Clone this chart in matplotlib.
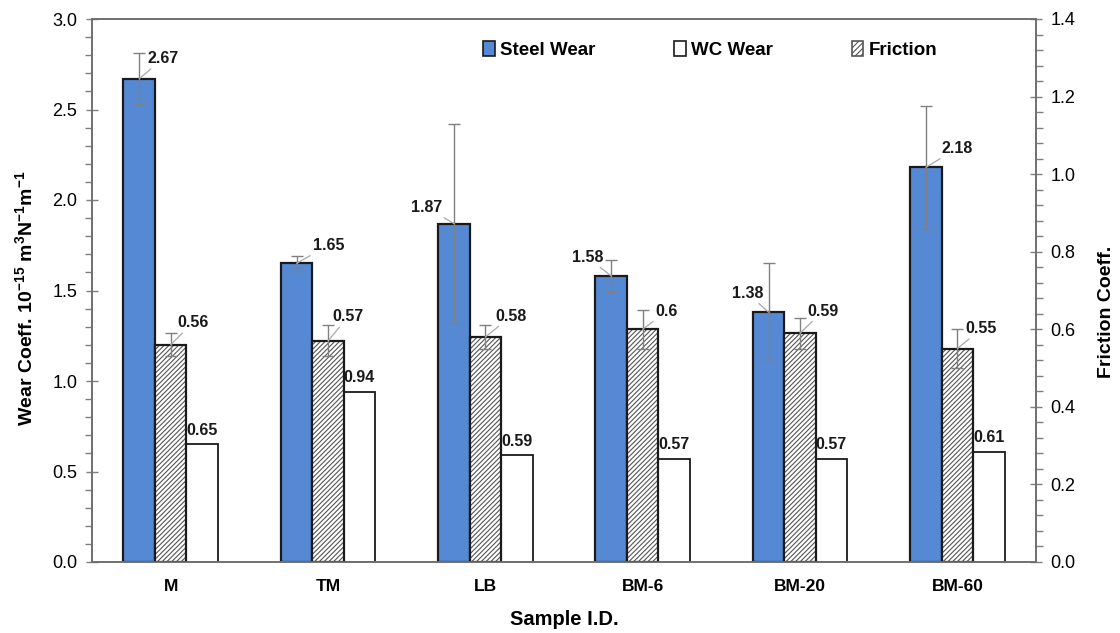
import numpy as np
import matplotlib
matplotlib.use("Agg")
import matplotlib.pyplot as plt
from matplotlib.patches import Patch
from matplotlib.ticker import MultipleLocator

plt.rcParams['font.family'] = ['Liberation Sans', 'DejaVu Sans']
plt.rcParams['mathtext.fontset'] = 'custom'
plt.rcParams['mathtext.rm'] = 'Liberation Sans'
plt.rcParams['mathtext.bf'] = 'Liberation Sans:bold'

# data
samples = ['M', 'TM', 'LB', 'BM-6', 'BM-20', 'BM-60']
steel_wear = [2.67, 1.65, 1.87, 1.58, 1.38, 2.18]
steel_err = [0.14, 0.04, 0.55, 0.09, 0.27, 0.34]
wc_wear = [0.65, 0.94, 0.59, 0.57, 0.57, 0.61]
friction = [0.56, 0.57, 0.58, 0.60, 0.59, 0.55]
friction_err = [0.03, 0.04, 0.03, 0.05, 0.04, 0.05]

# label offsets (pixels, relative to bar top)
steel_off = [(24, 20), (32, 18), (-27, 16), (-24, 19), (-21, 19), (31, 19)]
fric_off = [(22, 22), (20, 24), (26, 21), (24, 18), (23, 22), (24, 20)]

blue = '#5589D3'
edge = '#1a1a1a'
grey = '#808080'
w = 0.2
x = np.arange(len(samples))

fig = plt.figure(figsize=(11.2, 6.33), dpi=100)
ax = fig.add_axes([92 / 1120, 1 - 562 / 633, (1036 - 92) / 1120, (562 - 19) / 633])
ax2 = ax.twinx()

# steel wear (left axis)
ax.bar(x - w, steel_wear, w, color=blue, edgecolor=edge, linewidth=1.6, zorder=2)
ax.errorbar(x - w, steel_wear, yerr=steel_err, fmt='none', ecolor=grey,
            elinewidth=1, capsize=4, capthick=1, zorder=3)
# WC wear (left axis)
ax.bar(x + w, wc_wear, w, color='white', edgecolor=edge, linewidth=1.3, zorder=2)

# friction (right axis)
plt.rcParams['hatch.linewidth'] = 0.8
ax2.bar(x, friction, w, color='white', edgecolor='#555555', hatch='///////',
        linewidth=0, zorder=2)
ax2.bar(x, friction, w, color='none', edgecolor=edge, linewidth=1.6, zorder=2)
ax2.errorbar(x, friction, yerr=friction_err, fmt='none', ecolor=grey,
             elinewidth=1, capsize=4, capthick=1, zorder=3)

lbl = dict(fontsize=11.5, fontweight='bold', ha='center', va='center',
           textcoords='offset pixels', color='#1a1a1a')
arrow = dict(arrowstyle='-', color='#a8a8a8', lw=0.9, shrinkA=0, shrinkB=0)
for i in range(len(samples)):
    ax.annotate(f'{steel_wear[i]:g}', xy=(x[i] - w, steel_wear[i]),
                xytext=steel_off[i], arrowprops=arrow, zorder=4, **lbl)
    ax2.annotate(f'{friction[i]:g}', xy=(x[i], friction[i]),
                 xytext=fric_off[i], arrowprops=arrow, zorder=4, **lbl)
    ax.annotate(f'{wc_wear[i]:g}', xy=(x[i] + w, wc_wear[i]),
                xytext=(0, 14), **lbl)

ax.set_xlim(-0.5, len(samples) - 0.5)
ax.set_ylim(0, 3.0)
ax2.set_ylim(0, 1.4)
ax.yaxis.set_major_locator(MultipleLocator(0.5))
ax.yaxis.set_minor_locator(MultipleLocator(0.1))
ax2.yaxis.set_major_locator(MultipleLocator(0.2))
ax2.yaxis.set_minor_locator(MultipleLocator(0.04))
ax.yaxis.set_major_formatter(matplotlib.ticker.FormatStrFormatter('%.1f'))
ax2.yaxis.set_major_formatter(matplotlib.ticker.FormatStrFormatter('%.1f'))

ax.set_xticks(x)
ax.set_xticklabels(samples, fontsize=12.5, fontweight='bold')
ax.tick_params(axis='x', length=0, pad=12)
for a in (ax, ax2):
    a.tick_params(axis='y', which='major', direction='inout', length=9,
                  width=1, color='#7f7f7f', labelsize=13, pad=6)
    a.tick_params(axis='y', which='minor', direction='out', length=5,
                  width=1, color='#7f7f7f')
    for s in a.spines.values():
        s.set_color('#6f6f6f')
        s.set_linewidth(1.2)

ax.set_xlabel('Sample I.D.', fontsize=14.5, fontweight='bold', labelpad=12)
ax.set_ylabel(r'Wear Coeff. 10$^{\mathbf{-15}}$ m$^{\mathbf{3}}$N$^{\mathbf{-1}}$m$^{\mathbf{-1}}$',
              fontsize=14, fontweight='bold')
ax.yaxis.set_label_coords(-0.058, 0.486)
ax2.set_ylabel('Friction Coeff.', fontsize=14, fontweight='bold')
ax2.yaxis.set_label_coords(1.066, 0.46)

handles = [Patch(facecolor=blue, edgecolor=edge, linewidth=1.2),
           Patch(facecolor='white', edgecolor=edge, linewidth=1.2),
           Patch(facecolor='white', edgecolor='#555555', hatch='//////', linewidth=1.2)]
ax2.legend(handles, ['Steel Wear', 'WC Wear', 'Friction'], ncol=3,
           loc='upper center', bbox_to_anchor=(0.655, 0.99), frameon=False,
           prop={'weight': 'bold', 'size': 13.5}, handlelength=0.6,
           handleheight=0.8, handletextpad=0.3, columnspacing=4.2)

fig.savefig('out.png', dpi=100)
